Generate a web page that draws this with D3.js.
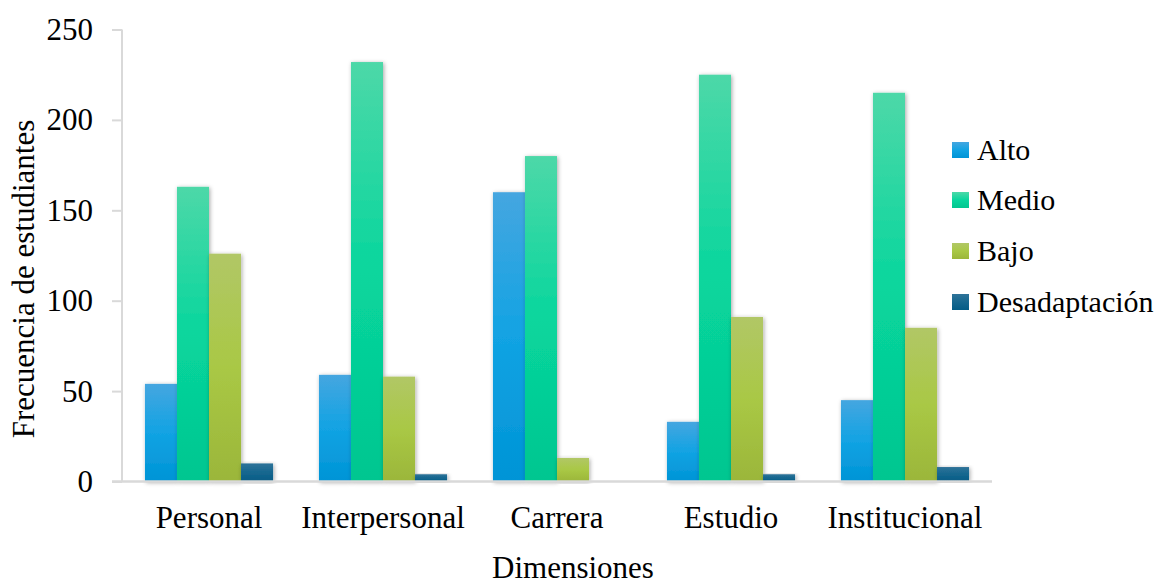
<!DOCTYPE html>
<html>
<head>
<meta charset="utf-8">
<script src="https://cdn.jsdelivr.net/npm/d3@7"></script>
<style>
  html, body { margin: 0; padding: 0; background: #ffffff; }
  svg { display: block; }
  text { font-family: "Liberation Serif", "Times New Roman", serif; fill: #000; }
</style>
</head>
<body>
<svg id="chart" width="1166" height="584"></svg>
<script>
const categories = ["Personal", "Interpersonal", "Carrera", "Estudio", "Institucional"];
const seriesNames = ["Alto", "Medio", "Bajo", "Desadaptación"];
const alto = [54, 59, 160, 33, 45];
const medio = [163, 232, 180, 225, 215];
const bajo = [126, 58, 13, 91, 85];
const desadaptacion = [10, 4, 0, 4, 8];
const yTicks = [0, 50, 100, 150, 200, 250];
const xTitle = "Dimensiones";
const yTitle = "Frecuencia de estudiantes";

const seriesValues = [alto, medio, bajo, desadaptacion];
const gradStops = [
  ["#45a6e0", "#12a3e3", "#0094d6"],
  ["#4dd8a8", "#08d69d", "#02c690"],
  ["#b1c766", "#a9c845", "#9bb63a"],
  ["#2f7399", "#16678f", "#045c86"]
];

const svg = d3.select("#chart");
const defs = svg.append("defs");
gradStops.forEach((s, i) => {
  const g = defs.append("linearGradient").attr("id", "g" + i)
    .attr("x1", 0).attr("y1", 0).attr("x2", 0).attr("y2", 1);
  g.append("stop").attr("offset", "0%").attr("stop-color", s[0]);
  g.append("stop").attr("offset", "50%").attr("stop-color", s[1]);
  g.append("stop").attr("offset", "100%").attr("stop-color", s[2]);
});
const f = defs.append("filter").attr("id", "shadow")
  .attr("x", "-50%").attr("y", "-10%").attr("width", "200%").attr("height", "120%");
f.append("feDropShadow").attr("dx", 1).attr("dy", 1).attr("stdDeviation", 2)
  .attr("flood-color", "#000").attr("flood-opacity", 0.35);

const x0 = d3.scaleBand().domain(categories).range([122, 992])
  .paddingInner(0.264).paddingOuter(0.132);
const x1 = d3.scaleBand().domain(seriesNames).range([0, x0.bandwidth()]).padding(0);
const y = d3.scaleLinear().domain([0, 250]).range([481.5, 29.5]);

// y axis
const yAxis = svg.append("g").attr("transform", "translate(122,0)")
  .call(d3.axisLeft(y).tickValues(yTicks).tickSize(10).tickPadding(19));
yAxis.attr("font-family", null);
yAxis.select(".domain").attr("stroke", "#d9d9d9").attr("stroke-width", 2)
  .attr("d", "M0," + y(250) + "V" + y(0));
yAxis.selectAll(".tick line").attr("stroke", "#d9d9d9").attr("stroke-width", 2);
yAxis.selectAll(".tick text").style("font-size", "31px");

// bars
const groups = svg.append("g").selectAll("g").data(categories).join("g")
  .attr("transform", d => "translate(" + x0(d) + ",0)");
groups.selectAll("rect")
  .data((c, ci) => seriesNames.map((s, si) => ({ s, si, v: seriesValues[si][ci] })).filter(d => d.v > 0))
  .join("rect")
  .attr("x", d => x1(d.s))
  .attr("width", x1.bandwidth())
  .attr("y", d => y(d.v))
  .attr("height", d => y(0) - y(d.v))
  .attr("fill", d => "url(#g" + d.si + ")")
  .attr("filter", "url(#shadow)");

// x axis
const xAxis = svg.append("g").attr("transform", "translate(0,481.5)")
  .call(d3.axisBottom(x0).tickSize(0).tickPadding(24));
xAxis.attr("font-family", null);
xAxis.select(".domain").attr("stroke", "#d9d9d9").attr("stroke-width", 2.5)
  .attr("d", "M112,0H992");
xAxis.selectAll(".tick text").style("font-size", "31px");

// titles
svg.append("text").attr("x", 573).attr("y", 578)
  .attr("text-anchor", "middle").style("font-size", "31px").text(xTitle);
svg.append("text").attr("transform", "translate(34,279) rotate(-90)")
  .attr("text-anchor", "middle").style("font-size", "31px").text(yTitle);

// legend
const legend = svg.append("g").attr("transform", "translate(952,0)");
const rowY = [150, 200, 251, 302];
seriesNames.forEach((s, i) => {
  legend.append("rect").attr("x", 0).attr("y", rowY[i] - 8).attr("width", 17).attr("height", 16)
    .attr("fill", "url(#g" + i + ")");
  legend.append("text").attr("x", 25).attr("y", rowY[i]).attr("dy", "0.32em")
    .style("font-size", "30px").text(s);
});
</script>
</body>
</html>
